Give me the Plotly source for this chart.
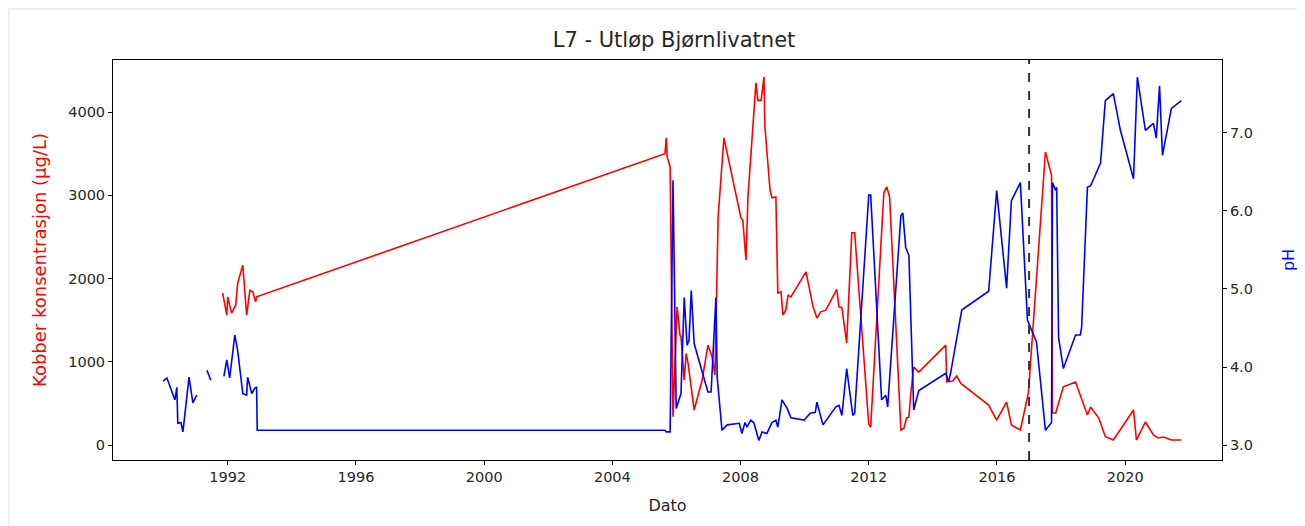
import pandas as pd
import plotly.graph_objects as go

# ─── Data (decimal years) ───────────────────────────────────────────────
kobber_aar = [
    1991.84, 1991.97, 1992.00, 1992.12, 1992.25, 1992.31, 1992.47, 1992.53,
    1992.59, 1992.69, 1992.78, 1992.87, 1992.90,
    2005.64, 2005.68, 2005.71, 2005.80, 2005.89, 2006.02, 2006.11, 2006.14,
    2006.24, 2006.30, 2006.36, 2006.55, 2006.80, 2006.98, 2007.11, 2007.20,
    2007.30, 2007.48, 2008.01, 2008.07, 2008.17, 2008.23, 2008.48, 2008.54,
    2008.64, 2008.73, 2008.76, 2008.92, 2008.98, 2009.10, 2009.16, 2009.26,
    2009.32, 2009.41, 2009.48, 2009.57, 2010.04, 2010.26, 2010.38, 2010.50,
    2010.66, 2011.00, 2011.07, 2011.16, 2011.31, 2011.47, 2011.56, 2012.00,
    2012.06, 2012.47, 2012.56, 2012.65, 2013.00, 2013.09, 2013.18, 2013.25,
    2013.31, 2013.40, 2013.56, 2014.40, 2014.43, 2014.62, 2014.74, 2014.87,
    2015.74, 2015.99, 2016.30, 2016.45, 2016.73, 2016.98, 2017.51, 2017.70,
    2017.73, 2017.83, 2018.07, 2018.45, 2018.82, 2018.92, 2019.18, 2019.38,
    2019.63, 2020.26, 2020.35, 2020.63, 2020.88, 2021.03, 2021.19, 2021.44,
    2021.75,
]
kobber = [
    1825, 1560, 1780, 1585, 1680, 1945, 2160, 1900,
    1560, 1860, 1840, 1720, 1780,
    3500, 3690, 3460, 3340, 340, 1660, 1320, 1300,
    780, 1100, 985, 420, 780, 1200, 1060, 840,
    2740, 3690, 2730, 2700, 2220, 2980, 4350, 4140,
    4140, 4420, 3820, 3060, 2970, 2980, 1825, 1840,
    1560, 1620, 1800, 1780, 2080, 1660, 1525, 1600,
    1620, 1870, 1660, 1650, 1225, 2550, 2550, 250,
    215, 3030, 3100, 2980, 180, 200, 325, 336,
    625, 935, 875, 1200, 760, 770, 830, 740,
    480, 300, 516, 240, 180, 625, 3520, 3240,
    385, 385, 700, 757, 360, 456, 320, 100,
    60, 420, 60, 276, 120, 84, 96, 60,
    60,
]

ph_aar = [
    1989.98, 1990.10, 1990.35, 1990.41, 1990.44, 1990.54, 1990.60, 1990.79,
    1990.91, 1991.03, 1991.20, 1991.35, 1991.47, 1991.70, 1991.88, 1991.97,
    1992.06, 1992.22, 1992.31, 1992.47, 1992.59, 1992.62, 1992.75, 1992.84,
    1992.90, 1992.92,
    2005.64, 2005.68, 2005.80, 2005.89, 2005.99, 2006.05, 2006.14, 2006.24,
    2006.33, 2006.39, 2006.46, 2006.55, 2006.98, 2007.08, 2007.23, 2007.27,
    2007.42, 2007.58, 2007.96, 2008.04, 2008.14, 2008.20, 2008.32, 2008.42,
    2008.57, 2008.67, 2008.82, 2008.98, 2009.10, 2009.16, 2009.29, 2009.45,
    2009.57, 2009.98, 2010.17, 2010.33, 2010.38, 2010.57, 2010.97, 2011.07,
    2011.16, 2011.31, 2011.50, 2011.56, 2012.00, 2012.06, 2012.40, 2012.53,
    2012.59, 2013.00, 2013.06, 2013.15, 2013.25, 2013.40, 2013.56, 2014.40,
    2014.49, 2014.55, 2014.90, 2015.74, 2015.99, 2016.30, 2016.45, 2016.73,
    2016.95, 2017.23, 2017.51, 2017.70, 2017.73, 2017.83, 2017.86, 2017.92,
    2018.07, 2018.45, 2018.60, 2018.64, 2018.82, 2018.92, 2019.23, 2019.38,
    2019.63, 2019.85, 2020.26, 2020.38, 2020.63, 2020.88, 2020.97, 2021.07,
    2021.16, 2021.44, 2021.75,
]
ph = [
    3.82, 3.86, 3.58, 3.74, 3.28, 3.29, 3.17, 3.87,
    3.54, 3.64, None, 3.96, 3.83, None, 3.88, 4.09,
    3.86, 4.41, 4.21, 3.66, 3.64, 3.87, 3.66, 3.73,
    3.74, 3.19,
    3.19, 3.17, 3.17, 6.39, 3.47, 3.54, 3.66, 4.89,
    4.28, 4.34, 4.98, 4.30, 3.68, 3.68, 4.89, 3.87,
    3.19, 3.26, 3.28, 3.15, 3.29, 3.23, 3.32, 3.28,
    3.06, 3.17, 3.15, 3.29, 3.32, 3.23, 3.58, 3.47,
    3.35, 3.32, 3.41, 3.42, 3.55, 3.26, 3.49, 3.51,
    3.38, 3.98, 3.38, 3.41, 6.20, 6.20, 3.58, 3.64,
    3.49, 5.94, 5.97, 5.53, 5.43, 3.45, 3.70, 3.92,
    3.81, 3.92, 4.73, 4.97, 6.26, 5.01, 6.13, 6.36,
    4.60, 4.32, 3.19, 3.29, 6.36, 6.26, 6.30, 4.38,
    3.98, 4.41, 4.41, 4.51, 6.30, 6.32, 6.61, 7.41,
    7.50, 7.03, 6.41, 7.71, 7.03, 7.12, 6.93, 7.60,
    6.71, 7.31, 7.41,
]

SKILLE_DATO = "2017-01-01"
X_TICKS = ["1992", "1996", "2000", "2004", "2008", "2012", "2016", "2020"]

FONT = "DejaVu Sans"
TEKST = "#262626"

# Siden ligger 8 px inn (body-marg), så figuren er 8 px mindre enn vinduet
BREDDE, HOYDE = 1297, 518


def til_dato(aar):
    hele = int(aar)
    return pd.Timestamp(hele, 1, 1) + pd.Timedelta(days=(aar - hele) * 365.25)


fig = go.Figure()

fig.add_trace(go.Scatter(
    x=[til_dato(a) for a in kobber_aar], y=kobber,
    mode="lines", line=dict(color="#ff0000", width=1.6),
    name="Kobber", yaxis="y",
))

fig.add_trace(go.Scatter(
    x=[til_dato(a) for a in ph_aar], y=ph,
    mode="lines", line=dict(color="#0000ff", width=1.6),
    name="pH", yaxis="y2", connectgaps=False,
))

# stiplet skillelinje
fig.add_shape(
    type="line", xref="x", yref="paper",
    x0=SKILLE_DATO, x1=SKILLE_DATO, y0=0, y1=1,
    line=dict(color="#333333", width=2, dash="dash"), layer="above",
)

# hvit figurflate med grå kant rundt (som i notebook-bildet)
fig.add_shape(
    type="rect", xref="paper", yref="paper",
    x0=-0.0929, x1=1.08, y0=-0.17, y1=1.125,
    fillcolor="white", line=dict(width=0), layer="below",
)

akse = dict(
    showline=True, linecolor="black", linewidth=1, mirror=True,
    ticks="outside", ticklen=4, tickcolor="black", showgrid=False,
    zeroline=False, automargin=False,
    tickfont=dict(family=FONT, size=14.5, color=TEKST),
)

fig.update_layout(
    width=BREDDE, height=HOYDE,
    margin=dict(l=105, r=83, t=52, b=66),
    paper_bgcolor="#f0f0f0",
    plot_bgcolor="rgba(0,0,0,0)",
    showlegend=False,
    font=dict(family=FONT, size=15, color=TEKST),
    title=dict(
        text="L7 - Utløp Bjørnlivatnet", x=0.5135, xanchor="center",
        y=0.938, yanchor="middle", font=dict(family=FONT, size=21, color=TEKST),
    ),
    xaxis=dict(
        akse, type="date",
        range=[til_dato(1988.42), til_dato(2023.02)],
        tickvals=[f"{t}-01-01" for t in X_TICKS], ticktext=X_TICKS,
        title=dict(text="Dato", standoff=15, font=dict(family=FONT, size=16, color=TEKST)),
    ),
    yaxis=dict(
        akse, range=[-180, 4625], tickvals=[0, 1000, 2000, 3000, 4000],
        title=dict(text="Kobber konsentrasjon (µg/L)", standoff=16,
                   font=dict(family=FONT, size=18, color="#ff0000")),
    ),
    yaxis2=dict(
        akse, overlaying="y", side="right", range=[2.81, 7.93],
        tickvals=[3, 4, 5, 6, 7], tickformat=".1f", mirror=False,
        title=dict(text="pH", standoff=30,
                   font=dict(family=FONT, size=16, color="#0000ff")),
    ),
)

fig.write_html("out.html")
